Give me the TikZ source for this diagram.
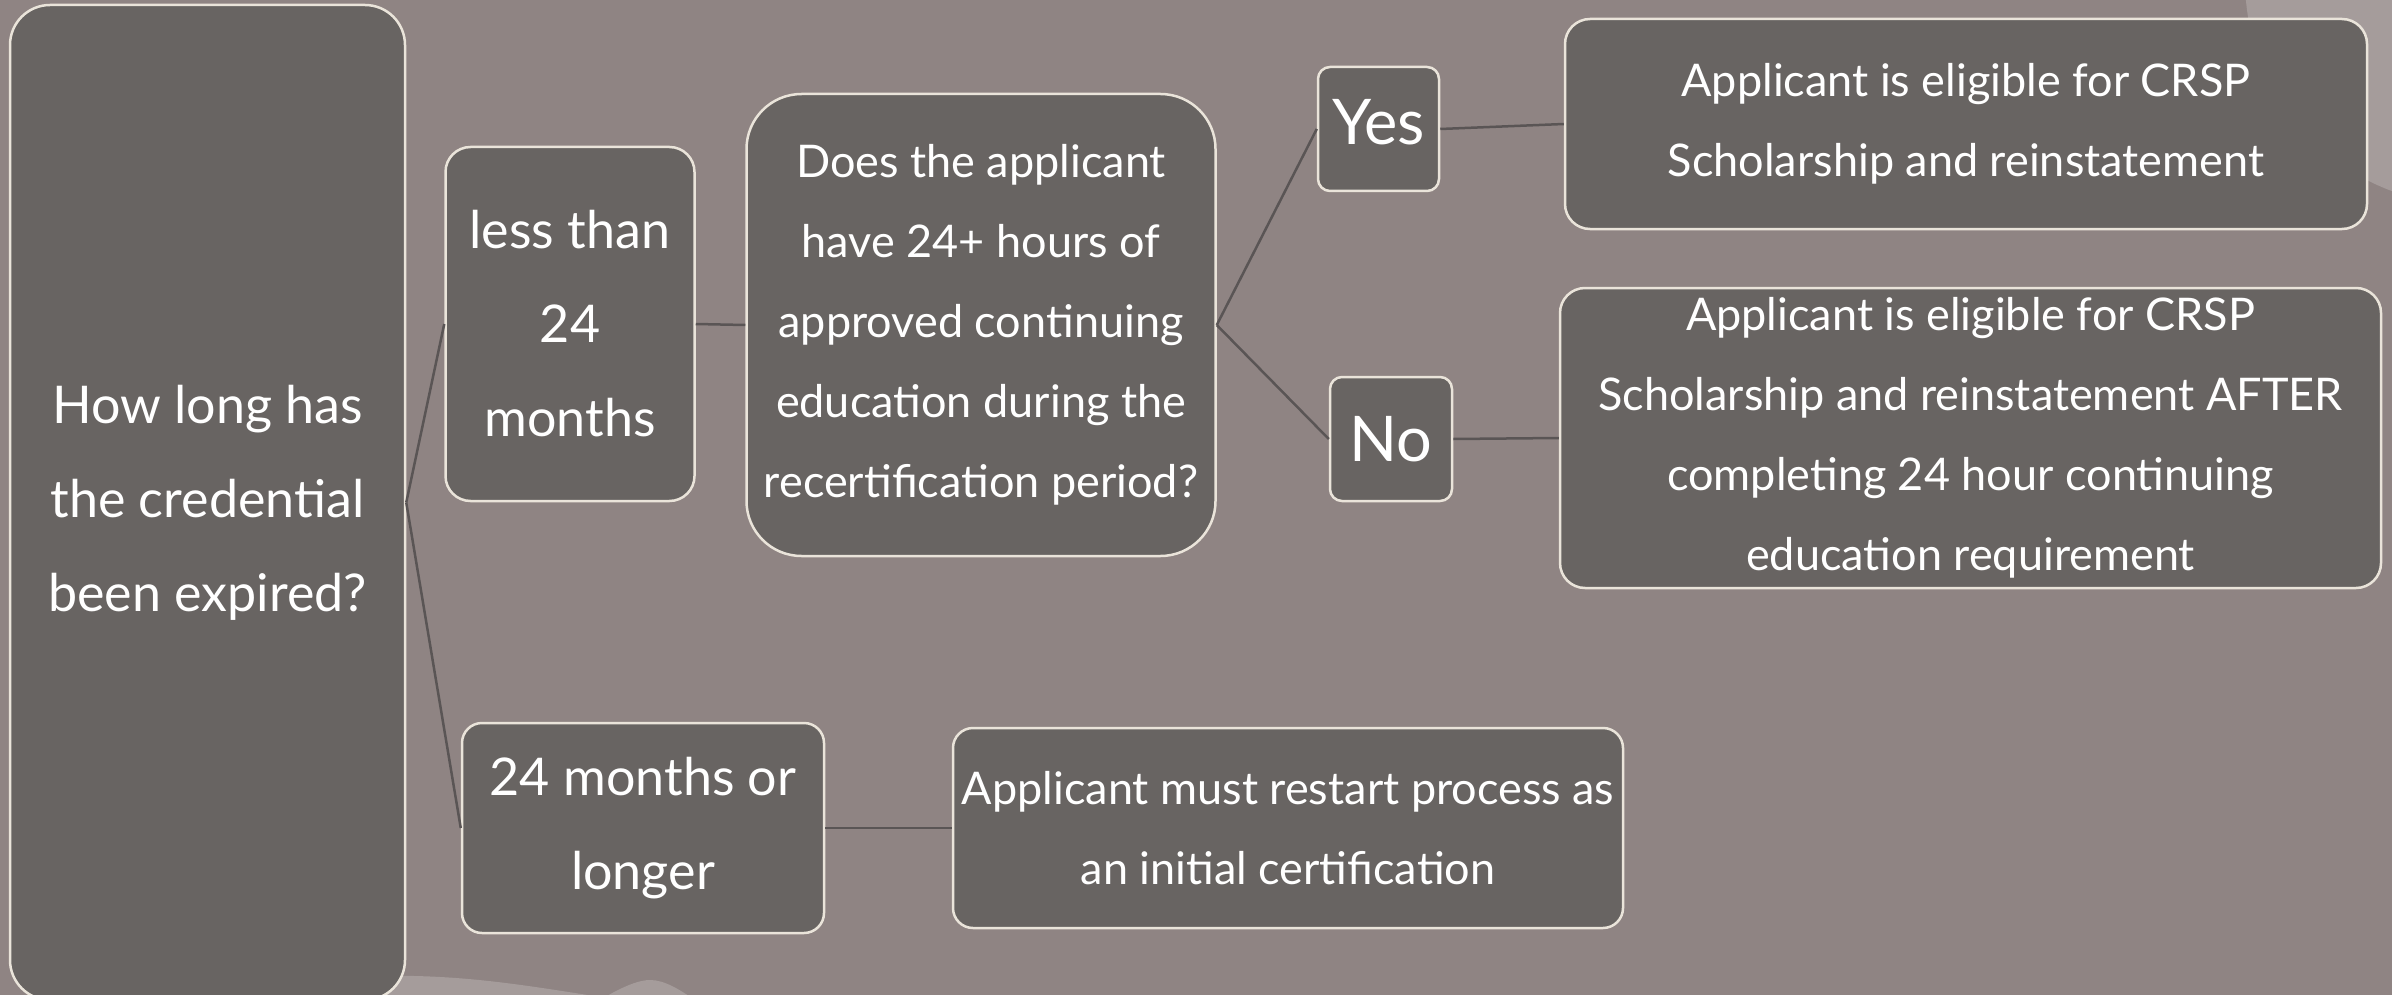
\documentclass[tikz,border=0pt]{standalone}
\usepackage{fontspec}
\setmainfont{Lato}
\definecolor{bg}{HTML}{8F8483}
\definecolor{bglight}{HTML}{A59C9B}
\definecolor{boxc}{HTML}{686462}
\definecolor{edgec}{HTML}{EAE4DA}
\definecolor{linkc}{HTML}{5A5555}
\begin{document}
\begin{tikzpicture}[x=1pt,y=-1pt,
  box/.style={draw=edgec,fill=boxc,line width=2.5pt,rounded corners=#1,text=white,align=center,inner sep=0pt},
  box/.default=25pt,
  big/.style={font=\fontsize{52}{94}\selectfont},
  mid/.style={font=\fontsize{45}{80}\selectfont},
  yn/.style={font=\fontsize{63}{72}\selectfont},
  link/.style={draw=linkc,line width=2.5pt}]
\useasboundingbox (0,0) rectangle (2392,995);
\clip (0,0) rectangle (2392,995);
\fill[bg] (0,0) rectangle (2392,995);
% background decorations
\fill[bglight] (2470,-20) circle (225);
\fill[bglight] (380,976) .. controls (470,974) and (540,988) .. (620,1000) -- (380,1000) -- cycle;
\fill[bglight] (600,1000) .. controls (625,985) and (640,980) .. (650,980) .. controls (665,980) and (680,990) .. (695,1000) -- cycle;
% nodes
\node[box=40pt,big,minimum width=395pt,minimum height=995pt] (L) at (207.5,502.5) {How long has\\the credential\\been expired?};
\node[box=25pt,big,minimum width=249pt,minimum height=354pt] (A) at (570,324) {less than\\24\\months};
\node[box=55pt,mid,minimum width=469pt,minimum height=462pt] (Q) at (981,325) {Does the applicant\\have 24+ hours of\\approved continuing\\education during the\\recertification period?};
\node[box=12pt,yn,minimum width=121pt,minimum height=124pt] (Y) at (1378.5,129) {Yes\\[-58pt]};
\node[box=12pt,yn,minimum width=122pt,minimum height=124pt] (N) at (1391,439) {No};
\node[box=25pt,mid,minimum width=802pt,minimum height=210pt] (R1) at (1966,124) {Applicant is eligible for CRSP\\Scholarship and reinstatement};
\node[box=25pt,mid,minimum width=821pt,minimum height=300pt] (R2) at (1970.5,438) {Applicant is eligible for CRSP\\Scholarship and reinstatement AFTER\\completing 24 hour continuing\\education requirement};
\node[box=20pt,big,minimum width=362pt,minimum height=210pt] (B) at (643,828) {24 months or\\longer};
\node[box=20pt,mid,minimum width=670pt,minimum height=200pt] (C) at (1288,828) {Applicant must restart process as\\an initial certification};
% connectors
\draw[link] (L.east) -- (A.west);
\draw[link] (L.east) -- (B.west);
\draw[link] (A.east) -- (Q.west);
\draw[link] (Q.east) -- (Y.west);
\draw[link] (Q.east) -- (N.west);
\draw[link] (Y.east) -- (R1.west);
\draw[link] (N.east) -- (R2.west);
\draw[link] (B.east) -- (C.west);
\end{tikzpicture}
\end{document}
